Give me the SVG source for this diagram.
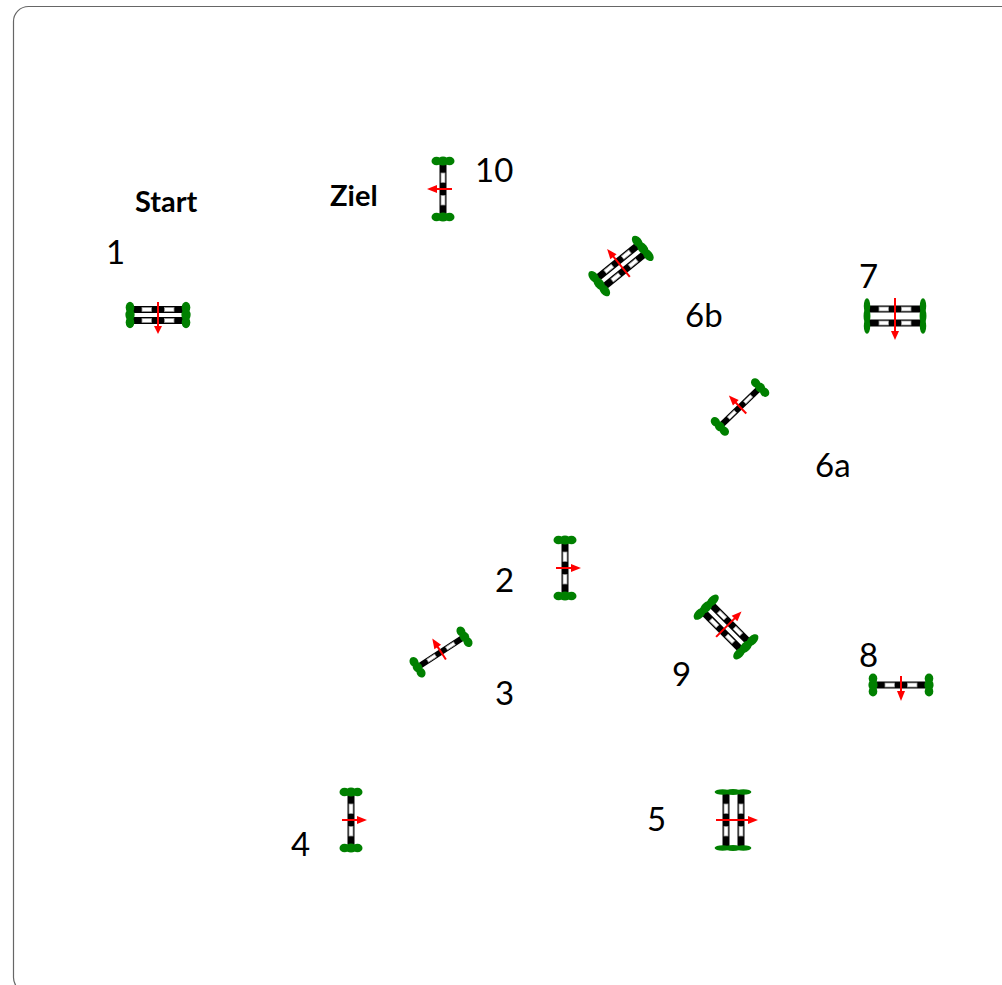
<svg xmlns="http://www.w3.org/2000/svg" width="1002" height="985" viewBox="0 0 1002 985">
<style>
.t{font-family:Lato,"Liberation Sans",sans-serif;font-size:33px;fill:#000}
.b{font-weight:700;font-size:29px}
.ar{stroke:#f00;stroke-width:2;fill:none}
.ah{fill:#f00}
.g{fill:#008000}
</style>
<defs>
<g id="rail">
<rect x="-3.5" y="-27" width="7" height="54" fill="#000"/>
<rect x="-2" y="-16" width="4" height="9.5" fill="#fff" stroke="#999" stroke-width=".8"/>
<rect x="-2" y="6.5" width="4" height="9.5" fill="#fff" stroke="#999" stroke-width=".8"/>
</g>
<g id="bush">
<ellipse class="g" cx="-6.5" cy="0" rx="5" ry="4.3"/>
<ellipse class="g" cx="0" cy="0" rx="5.5" ry="4.6"/>
<ellipse class="g" cx="6.5" cy="0" rx="5" ry="4.3"/>
</g>
<g id="ends">
<use href="#bush" y="-28"/>
<use href="#bush" y="28"/>
</g>
<g id="arrow">
<path class="ar" d="M-9 0H7"/>
<path class="ah" d="M6 -4L16 0L6 4Z"/>
</g>
</defs>
<rect id="frame" x="13.5" y="6.5" width="1100" height="986" rx="15" fill="#fff" stroke="#666" stroke-width="1.2"/>
<g id="connectors"></g>

<g id="jump1" transform="translate(158 315) rotate(90)">
<use href="#rail" x="-5.5"/><use href="#rail" x="5.5"/>
<g transform="scale(1.15 1)"><use href="#ends"/></g>
<path class="ar" d="M-13 0H12"/><path class="ah" d="M11 -4L19 0L11 4Z"/>
</g>
<g id="jump2" transform="translate(565 568)"><use href="#rail"/><use href="#ends"/><use href="#arrow"/></g>
<g id="jump3" transform="translate(441 652) rotate(-123)"><use href="#rail" transform="scale(.85 1)"/><use href="#ends"/><use href="#arrow"/></g>
<g id="jump4" transform="translate(351 820)"><use href="#rail"/><use href="#ends"/><use href="#arrow"/></g>
<g id="jump5" transform="translate(733 820)">
<use href="#rail" x="-7"/><use href="#rail" x="8"/>
<g transform="translate(0 -28) scale(1.6 .65)"><use href="#bush"/></g>
<g transform="translate(0 28) scale(1.6 .65)"><use href="#bush"/></g>
<path class="ar" d="M-17 0H17"/><path class="ah" d="M15 -4L25 0L15 4Z"/>
</g>
<g id="jump6a" transform="translate(740 407) rotate(-134)"><use href="#rail" transform="scale(.85 1)"/><use href="#ends"/><use href="#arrow"/></g>
<g id="jump6b" transform="translate(621 266) rotate(-129)">
<use href="#rail" x="-5.5"/><use href="#rail" x="5.5"/>
<g transform="scale(1.35 1)"><use href="#ends"/></g>
<path class="ar" d="M-14 0H14"/><path class="ah" d="M12 -4L22 0L12 4Z"/>
</g>
<g id="jump7" transform="translate(895 316) rotate(90)">
<use href="#rail" x="-7"/><use href="#rail" x="7"/>
<g transform="translate(0 -28) scale(1.55 .75)"><use href="#bush"/></g>
<g transform="translate(0 28) scale(1.55 .75)"><use href="#bush"/></g>
<path class="ar" d="M-18 0H16"/><path class="ah" d="M15 -4L24 0L15 4Z"/>
</g>
<g id="jump8" transform="translate(901 685) rotate(90)"><use href="#rail"/><use href="#ends"/><use href="#arrow"/></g>
<g id="jump9" transform="translate(726 627) rotate(-45)">
<use href="#rail" x="-5.5"/><use href="#rail" x="5.5"/>
<g transform="scale(1.45 1)"><use href="#ends"/></g>
<path class="ar" d="M-14 0H14"/><path class="ah" d="M12 -4L22 0L12 4Z"/>
</g>
<g id="jump10" transform="translate(443 189) rotate(180)"><use href="#rail"/><use href="#ends"/><use href="#arrow"/></g>

<g id="labels">
<text class="t b" x="135" y="212">Start</text>
<text class="t b" x="330" y="206">Ziel</text>
<text class="t" x="106" y="264">1</text>
<text class="t" x="495" y="592">2</text>
<text class="t" x="495" y="705">3</text>
<text class="t" x="291" y="856">4</text>
<text class="t" x="647" y="831">5</text>
<text class="t" x="815" y="477">6a</text>
<text class="t" x="685" y="327">6b</text>
<text class="t" x="859" y="288">7</text>
<text class="t" x="859" y="667">8</text>
<text class="t" x="672" y="686">9</text>
<text class="t" x="475" y="182">10</text>
</g>
</svg>
